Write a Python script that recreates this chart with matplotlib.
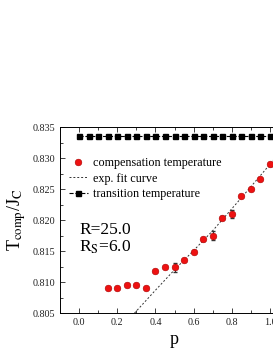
import numpy as np
import matplotlib
matplotlib.use("Agg")
import matplotlib.pyplot as plt
from matplotlib.ticker import MultipleLocator

plt.rcParams['font.family'] = ['Liberation Serif', 'DejaVu Serif']
plt.rcParams['mathtext.fontset'] = 'stix'

# transition temperature
p_tr = [0.0, 0.05, 0.1, 0.15, 0.2, 0.25, 0.3, 0.35, 0.4, 0.45, 0.5,
        0.55, 0.6, 0.65, 0.7, 0.75, 0.8, 0.85, 0.9, 0.95, 1.0]
t_tr = [0.8335] * len(p_tr)

# compensation temperature
p_comp = [0.15, 0.2, 0.25, 0.3, 0.35, 0.4, 0.45, 0.5, 0.55, 0.6,
          0.65, 0.7, 0.75, 0.8, 0.85, 0.9, 0.95, 1.0]
t_comp = [0.8090, 0.8091, 0.8095, 0.8095, 0.8091, 0.8118, 0.8124, 0.8124,
          0.8135, 0.8149, 0.8169, 0.8175, 0.8204, 0.8210, 0.8239, 0.8250,
          0.8267, 0.8290]
err_comp = [0.0001, 0.0001, 0.0001, 0.0001, 0.0001, 0.0001, 0.0001, 0.0007,
            0.0001, 0.0002, 0.0002, 0.0007, 0.0002, 0.0007, 0.0001, 0.0001,
            0.0001, 0.0002]

# exp. fit curve
p_fit = [0.29, 0.4, 0.5, 0.6, 0.7, 0.85, 1.0, 1.1]
t_fit = [0.8050, 0.8087, 0.8120, 0.8151, 0.8183, 0.8236, 0.8290, 0.8328]

fig = plt.figure(figsize=(2.73, 3.53), dpi=100)
ax = fig.add_axes([0.22, 0.113, 0.839, 0.527])

tr, = ax.plot(p_tr, t_tr, color='black', ls='--', lw=0.8, marker='s', ms=3.6,
              label='transition temperature', zorder=2)
fit, = ax.plot(p_fit, t_fit, color='#333333', ls=(0, (2, 2)), lw=0.7,
               label='exp. fit curve', zorder=3)
ax.errorbar(p_comp, t_comp, yerr=err_comp, fmt='none', ecolor='#333333',
            elinewidth=0.8, capsize=1.5, zorder=4)
comp, = ax.plot(p_comp, t_comp, 'o', color='#ee1111', mec='#aa0000', mew=0.4,
                ms=4.8, label='compensation temperature', zorder=5)

ax.set_xlim(-0.1, 1.1)
ax.set_ylim(0.805, 0.835)
ax.xaxis.set_minor_locator(MultipleLocator(0.1))
ax.yaxis.set_minor_locator(MultipleLocator(0.0025))
ax.set_xticks([0.0, 0.2, 0.4, 0.6, 0.8, 1.0])
ax.set_xticklabels(['0.0', '0.2', '0.4', '0.6', '0.8', '1.0'])
ax.set_yticks([0.805, 0.810, 0.815, 0.820, 0.825, 0.830, 0.835])
ax.set_yticklabels(['0.805', '0.810', '0.815', '0.820', '0.825', '0.830', '0.835'])
ax.tick_params(which='both', direction='in', top=True, right=True,
               labelsize=7.3, width=0.6, colors='#222222')
ax.tick_params(which='major', length=3.5)
ax.tick_params(which='minor', length=2)
for s in ax.spines.values():
    s.set_linewidth(0.7)

ax.set_xlabel('p', fontsize=13, labelpad=3)
ax.set_ylabel(r'T$_{\rm comp}$/J$_{\rm C}$', fontsize=13, labelpad=3)

ax.legend([comp, fit, tr], [comp.get_label(), fit.get_label(), tr.get_label()],
          loc='upper left', bbox_to_anchor=(0.0, 0.885), frameon=False,
          fontsize=8.7, handlelength=1.6, handletextpad=0.4, labelspacing=0.3,
          borderaxespad=0.3)

ax.text(0.0, 0.8178, 'R=25.0', fontsize=12.5)
ax.text(0.0, 0.8149, r'R$_{\rm S}$=6.0', fontsize=12.5)

fig.savefig('out.png', dpi=100)
